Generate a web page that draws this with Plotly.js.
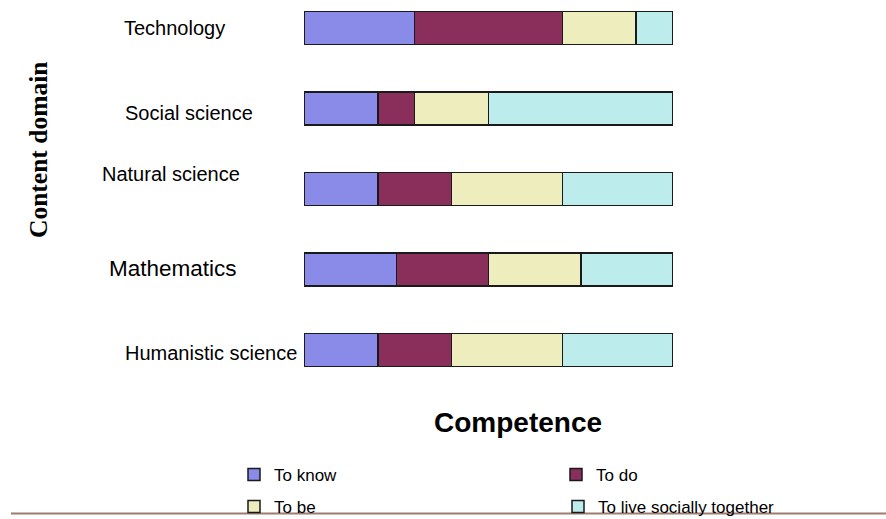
<!DOCTYPE html>
<html>
<head>
<meta charset="utf-8">
<script src="https://cdn.plot.ly/plotly-3.0.1.min.js"></script>
<style>html,body{margin:0;padding:0;background:#fff;}#chart{width:886px;height:519px;}</style>
</head>
<body>
<div id="chart"></div>
<script>
var categories = ['Technology', 'Social science', 'Natural science', 'Mathematics', 'Humanistic science'];
var seriesNames = ['To know', 'To do', 'To be', 'To live socially together'];
var toKnow = [30, 20, 20, 25, 20];
var toDo   = [40, 10, 20, 25, 20];
var toBe   = [20, 20, 30, 25, 30];
var toLive = [10, 50, 30, 25, 30];
var yAxisTitle = 'Content domain';
var xAxisTitle = 'Competence';

var seriesValues = [toKnow, toDo, toBe, toLive];
var colors = ['#8a8ae8', '#8a2f5c', '#ededbe', '#bcecec'];
var legendIds = ['legend', 'legend2', 'legend3', 'legend4'];
// legend entry positions (pixels of the 886x519 picture): left edge, row centre
var legendPos = [[234, 475], [556, 475], [234, 507], [558, 507]];

var traces = seriesValues.map(function (vals, i) {
  return {
    type: 'bar',
    orientation: 'h',
    name: seriesNames[i],
    x: vals,
    y: categories,
    width: 0.41,
    legend: legendIds[i],
    marker: { color: colors[i], line: { color: '#1a1a1a', width: 1.5 } },
    hoverinfo: 'x+y+name'
  };
});

var labelStyle = [
  { px: 174, dy: 0, size: 20 },
  { px: 189, dy: -4, size: 20 },
  { px: 171, dy: 15, size: 20 },
  { px: 173, dy: 1, size: 22.5 },
  { px: 211, dy: -3, size: 20 }
];
var plotL = 304, plotW = 369, plotH = 390;
function px2x(px) { return (px - plotL) / plotW; }
function py2y(py) { return (plotH - py) / plotH; }

var annotations = categories.map(function (c, i) {
  var s = labelStyle[i];
  return {
    text: c, xref: 'paper', yref: 'y', x: px2x(s.px), y: c,
    xanchor: 'center', yanchor: 'middle', yshift: s.dy, showarrow: false,
    font: { family: 'Liberation Sans, Arial, sans-serif', size: s.size, color: '#000' }
  };
});
annotations.push({
  text: '<b>' + yAxisTitle + '</b>', xref: 'paper', yref: 'paper',
  x: px2x(38), y: py2y(150), textangle: -90, showarrow: false,
  xanchor: 'center', yanchor: 'middle',
  font: { family: 'Liberation Serif, Times New Roman, serif', size: 25.5, color: '#000' }
});
annotations.push({
  text: '<b>' + xAxisTitle + '</b>', xref: 'paper', yref: 'paper',
  x: px2x(518), y: py2y(422), showarrow: false,
  xanchor: 'center', yanchor: 'middle',
  font: { family: 'Liberation Sans, Arial, sans-serif', size: 28, color: '#000' }
});

var layout = {
  width: 886, height: 519,
  paper_bgcolor: '#fff', plot_bgcolor: '#fff',
  margin: { l: 304, r: 213, t: 0, b: 129, autoexpand: false },
  barmode: 'stack',
  showlegend: true,
  xaxis: { range: [0, 100], visible: false, fixedrange: true },
  yaxis: { type: 'category', categoryorder: 'array', categoryarray: categories,
           range: [4.5, -0.35], visible: false, fixedrange: true },
  annotations: annotations,
  shapes: [{
    type: 'line', xref: 'paper', yref: 'paper',
    x0: px2x(11), x1: px2x(886), y0: py2y(513.5), y1: py2y(513.5),
    line: { color: '#a07a6e', width: 2 }
  }]
};
legendIds.forEach(function (id, i) {
  layout[id] = {
    orientation: 'h', xref: 'container', yref: 'container',
    xanchor: 'left', yanchor: 'middle',
    x: legendPos[i][0] / 886, y: 1 - legendPos[i][1] / 519,
    bgcolor: 'rgba(0,0,0,0)', borderwidth: 0,
    font: { family: 'Liberation Sans, Arial, sans-serif', size: 17, color: '#000' }
  };
});

Plotly.newPlot('chart', traces, layout, { displayModeBar: false, staticPlot: true });
</script>
</body>
</html>
